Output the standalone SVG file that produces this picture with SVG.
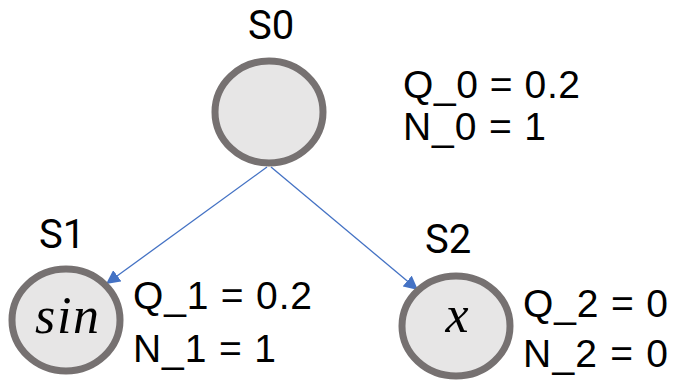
<svg xmlns="http://www.w3.org/2000/svg" width="676" height="384" viewBox="0 0 676 384">
<style>
.node{fill:#E7E6E6;stroke:#767171;stroke-width:7}
.lbl{font-family:Roboto,"Liberation Sans",sans-serif;font-size:40px;fill:#000;text-anchor:middle}
.val{font-family:"Liberation Sans",Arial,sans-serif;font-size:39px;fill:#000}
.math{font-family:"Liberation Serif",serif;font-style:italic;font-size:52px;fill:#000;text-anchor:middle}
.edge{stroke:#4472C4;stroke-width:1.3;fill:none}
</style>
<defs>
<marker id="ah" viewBox="0 0 10 10" refX="10" refY="5" markerWidth="14" markerHeight="14" markerUnits="userSpaceOnUse" orient="auto">
<path d="M0,0 L10,5 L0,10 z" fill="#4472C4"/>
</marker>
</defs>
<g id="connectors">
<line class="edge" x1="267" y1="167" x2="106" y2="284" marker-end="url(#ah)"/>
<line class="edge" x1="271" y1="167" x2="418" y2="290" marker-end="url(#ah)"/>
</g>
<g id="S0">
<ellipse class="node" cx="269" cy="112" rx="54" ry="51"/>
<text class="lbl" x="271" y="39">S0</text>
<text class="val" x="403" y="98" textLength="177">Q_0 = 0.2</text>
<text class="val" x="403" y="140" textLength="143">N_0 = 1</text>
</g>
<g id="S1">
<ellipse class="node" cx="66" cy="320" rx="54" ry="51"/>
<text class="lbl" x="62" y="248">S1</text>
<text class="math" x="67" y="333" textLength="64">sin</text>
<text class="val" x="133" y="309" textLength="179">Q_1 = 0.2</text>
<text class="val" x="133" y="362" textLength="143">N_1 = 1</text>
</g>
<g id="S2">
<ellipse class="node" cx="456" cy="326" rx="54" ry="50"/>
<text class="lbl" x="448" y="253">S2</text>
<text class="math" x="457" y="332">x</text>
<text class="val" x="523" y="317" textLength="145">Q_2 = 0</text>
<text class="val" x="523" y="367" textLength="145">N_2 = 0</text>
</g>
</svg>
